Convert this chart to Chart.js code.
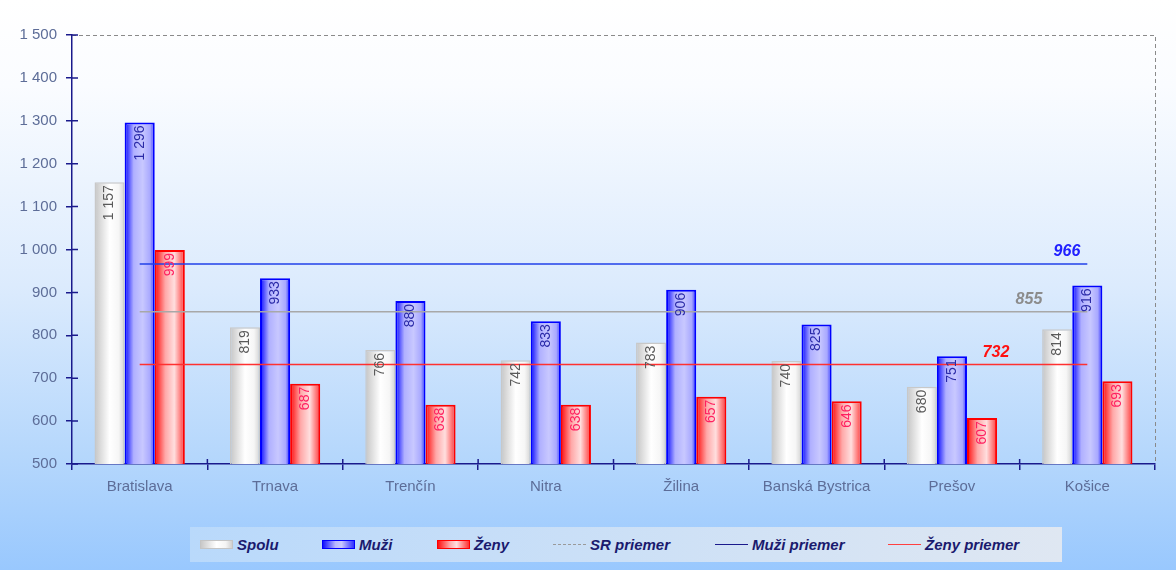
<!DOCTYPE html>
<html>
<head>
<meta charset="utf-8">
<script src="https://cdn.jsdelivr.net/npm/chart.js@4/dist/chart.umd.min.js"></script>
<style>
  body { margin: 0; width: 1176px; height: 570px; overflow: hidden; position: relative;
         background: linear-gradient(to bottom, #ffffff 0%, #fafcff 15%, #dcebfd 50%, #b5d7fc 80%, #99c8fe 100%); }
  #wrap { position: absolute; left: 0; top: 0; width: 1176px; height: 570px; }
  #legend { position: absolute; left: 190px; top: 527px; width: 872px; height: 35px;
            background: linear-gradient(to right, #b9d9fb, #dfe7f2); }
  .item { position: absolute; top: 0; height: 35px; display: flex; align-items: center;
          font: italic bold 15px 'Liberation Sans Narrow', 'Arial Narrow', Arial, sans-serif; color: #1a1a6e; }
  .sw { width: 33px; height: 9px; margin-right: 4px; box-sizing: border-box; }
  .ln { width: 33px; height: 0; margin-right: 4px; }
</style>
</head>
<body>
<div id="wrap"><canvas id="chart" width="1176" height="570"></canvas></div>
<div id="legend">
  <div class="item" style="left:10px"><div class="sw" style="border:1px solid #c4c4c4;background:linear-gradient(to right,#c8c8c8,#fff 50%,#f4f4f4 80%,#d0d0d0)"></div>Spolu</div>
  <div class="item" style="left:132px"><div class="sw" style="border:1.5px solid #0000ff;background:linear-gradient(to right,#1010ff,#b8b8ff 40%,#c8c8ff 60%,#3030ff)"></div>Muži</div>
  <div class="item" style="left:247px"><div class="sw" style="border:1.5px solid #ff0000;background:linear-gradient(to right,#ff1010,#ffb0b0 40%,#ffe0e0 60%,#ff3030)"></div>Ženy</div>
  <div class="item" style="left:363px"><div class="ln" style="border-top:1px dashed #9a9a9a"></div>SR priemer</div>
  <div class="item" style="left:525px"><div class="ln" style="border-top:1.5px solid #1a1a8c"></div>Muži priemer</div>
  <div class="item" style="left:698px"><div class="ln" style="border-top:1.5px solid #ff4040"></div>Ženy priemer</div>
</div>
<script>
const categories = ['Bratislava', 'Trnava', 'Trenčín', 'Nitra', 'Žilina', 'Banská Bystrica', 'Prešov', 'Košice'];
const spolu = [1157, 819, 766, 742, 783, 740, 680, 814];
const muzi = [1296, 933, 880, 833, 906, 825, 751, 916];
const zeny = [999, 687, 638, 638, 657, 646, 607, 693];
const srPriemer = [855, 855, 855, 855, 855, 855, 855, 855];
const muziPriemer = [966, 966, 966, 966, 966, 966, 966, 966];
const zenyPriemer = [732, 732, 732, 732, 732, 732, 732, 732];
const yTicks = [500, 600, 700, 800, 900, 1000, 1100, 1200, 1300, 1400, 1500];

const CAT_PCT = 0.667;
const fmt = v => String(v).replace(/\B(?=(\d{3})+(?!\d))/g, ' ');

function barGradient(stops) {
    return (ctx) => {
        const chart = ctx.chart;
        const x = chart.scales.x;
        if (!x || ctx.dataIndex === undefined) return stops[1][1];
        const bw = (x.width / categories.length) * CAT_PCT / 3;
        const left = x.getPixelForValue(ctx.dataIndex) - 1.5 * bw + ctx.datasetIndex * bw;
        if (!isFinite(left) || !isFinite(bw)) return stops[1][1];
        const g = chart.ctx.createLinearGradient(left, 0, left + bw, 0);
        stops.forEach(([o, c]) => g.addColorStop(o, c));
        return g;
    };
}

// value labels inside bars + labels of the average lines + frame
const extras = {
    id: 'extras',
    afterDatasetsDraw(chart) {
        const c = chart.ctx;
        const area = chart.chartArea;
        const colors = ['#5a5a5a', '#2a2aa8', '#ff2060'];
        c.save();
        [0, 1, 2].forEach(di => {
            chart.getDatasetMeta(di).data.forEach((el, i) => {
                c.save();
                c.translate(el.x, el.y + 3);
                c.rotate(-Math.PI / 2);
                c.font = '14px Arial, "Liberation Sans", sans-serif';
                c.fillStyle = colors[di];
                c.textAlign = 'right';
                c.textBaseline = 'middle';
                c.fillText(fmt(chart.data.datasets[di].data[i]), 0, 0);
                c.restore();
            });
        });
        // average labels
        const avg = [[3, '#8c8c8c', -45], [4, '#2020ff', -7], [5, '#ff1010', -78]];
        c.font = 'italic bold 16px Arial, "Liberation Sans", sans-serif';
        c.textAlign = 'right';
        c.textBaseline = 'bottom';
        avg.forEach(([di, col, dx]) => {
            const pts = chart.getDatasetMeta(di).data;
            const last = pts[pts.length - 1];
            c.fillStyle = col;
            c.fillText(fmt(chart.data.datasets[di].data[pts.length - 1]), last.x + dx, last.y - 4);
        });
        // dashed frame top / right
        c.strokeStyle = '#8a8a8a';
        c.lineWidth = 1;
        c.setLineDash([4, 3]);
        c.beginPath();
        c.moveTo(area.left, area.top + 0.5);
        c.lineTo(area.right + 0.5, area.top + 0.5);
        c.lineTo(area.right + 0.5, area.bottom);
        c.stroke();
        c.setLineDash([]);
        // inner half of tick marks
        c.strokeStyle = '#1a1a8c';
        c.lineWidth = 1.5;
        c.beginPath();
        chart.scales.y.ticks.forEach(t => {
            const y = chart.scales.y.getPixelForValue(t.value);
            c.moveTo(area.left, y);
            c.lineTo(area.left + 6, y);
        });
        const cw = (area.right - area.left) / categories.length;
        for (let i = 1; i < categories.length; i++) {
            const x = area.left + i * cw;
            c.moveTo(x, area.bottom);
            c.lineTo(x, area.bottom - 5);
        }
        c.stroke();
        c.restore();
    }
};

const lineDs = (label, data, color, width) => ({
    type: 'line', label, data, borderColor: color, borderWidth: width,
    pointRadius: 0, fill: false, order: 0
});

new Chart(document.getElementById('chart'), {
    type: 'bar',
    data: {
        labels: categories,
        datasets: [
            { label: 'Spolu', data: spolu, order: 1, borderColor: '#c8c8c8', borderWidth: 1.5,
              backgroundColor: barGradient([[0, '#c4c4c4'], [0.5, '#ffffff'], [0.8, '#f6f6f6'], [1, '#d2d2d2']]) },
            { label: 'Muži', data: muzi, order: 1, borderColor: '#0000ff', borderWidth: 2,
              backgroundColor: barGradient([[0, '#0808ff'], [0.3, '#b0b0ff'], [0.6, '#c8c8ff'], [0.85, '#a8a8ff'], [1, '#3030ff']]) },
            { label: 'Ženy', data: zeny, order: 1, borderColor: '#ff0000', borderWidth: 2,
              backgroundColor: barGradient([[0, '#ff0808'], [0.35, '#ffa8a8'], [0.65, '#ffdede'], [1, '#ff3838']]) },
            lineDs('SR priemer', srPriemer, '#a8a8a8', 1.5),
            lineDs('Muži priemer', muziPriemer, '#2040e8', 1.5),
            lineDs('Ženy priemer', zenyPriemer, '#ff3030', 1.5)
        ]
    },
    options: {
        responsive: false,
        animation: false,
        categoryPercentage: CAT_PCT,
        barPercentage: 1,
        layout: { padding: { left: 0, right: 21, top: 35, bottom: 76 } },
        plugins: { legend: { display: false }, tooltip: { enabled: false } },
        scales: {
            x: {
                offset: true,
                border: { color: '#1a1a8c', width: 1.5 },
                grid: { display: true, offset: true, drawOnChartArea: false, color: '#1a1a8c', lineWidth: 1.5, tickLength: 6 },
                ticks: { color: '#5d6d98', font: { family: 'Arial, "Liberation Sans", sans-serif', size: 15 }, padding: 8, maxRotation: 0 },
                afterFit: s => { s.height = 30; }
            },
            y: {
                min: 500, max: 1500,
                afterBuildTicks: s => { s.ticks = yTicks.map(v => ({ value: v })); },
                border: { color: '#1a1a8c', width: 1.5 },
                grid: { drawOnChartArea: false, color: '#1a1a8c', lineWidth: 1.5, tickLength: 6 },
                ticks: { color: '#5d6d98', font: { family: 'Arial, "Liberation Sans", sans-serif', size: 15 }, padding: 9,
                         callback: v => fmt(v) },
                afterFit: s => { s.width = 72; }
            }
        }
    },
    plugins: [extras]
});
</script>
</body>
</html>
